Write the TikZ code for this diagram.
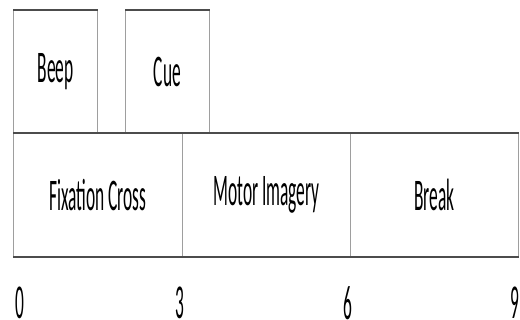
\documentclass[tikz,border=0pt]{standalone}
\usepackage{fontspec}
\setmainfont{Carlito}
% tall, narrow lettering used for every label
\newcommand{\stretchtxt}[1]{\scalebox{1}[2.6]{#1}}
\newcommand{\stretchnum}[1]{\scalebox{1}[2.8]{#1}}
\begin{document}
\begin{tikzpicture}[x=1pt,y=-1pt,
  box/.style={draw=black!38, line width=1pt, inner sep=0pt, anchor=north west,
    font=\fontsize{17.4}{20}\selectfont},
  hline/.style={draw=black!70, line width=1.3pt},
  tick/.style={inner sep=0pt, font=\fontsize{17.4}{20}\selectfont}]
\useasboundingbox (0,0) rectangle (520,320);
% upper row: short events
\node[box, minimum width=84pt, minimum height=123pt] (beep) at (13,10) {\stretchtxt{Beep}};
\node[box, minimum width=84pt, minimum height=123pt] (cue) at (125,10) {\stretchtxt{Cue}};
% lower row: trial phases
\node[box, minimum width=169pt, minimum height=123pt] (fix) at (13,133) {\stretchtxt{Fixation Cross}};
\node[box, minimum width=168pt, minimum height=123pt] (motor) at (182,133) {\stretchtxt{Motor Imagery}};
\node[box, minimum width=168pt, minimum height=123pt] (brk) at (350,133) {\stretchtxt{Break}};
% darker horizontal edges
\draw[hline] (beep.north west) -- (beep.north east);
\draw[hline] (cue.north west) -- (cue.north east);
\draw[hline] (fix.north west) -- (brk.north east);
\draw[hline] (fix.south west) -- (brk.south east);
% time axis labels (seconds)
\node[tick] (t0) at (20,303) {\stretchnum{0}};
\node[tick] (t3) at (180,303) {\stretchnum{3}};
\node[tick] (t6) at (348,303) {\stretchnum{6}};
\node[tick] (t9) at (515,303) {\stretchnum{9}};
\end{tikzpicture}
\end{document}
